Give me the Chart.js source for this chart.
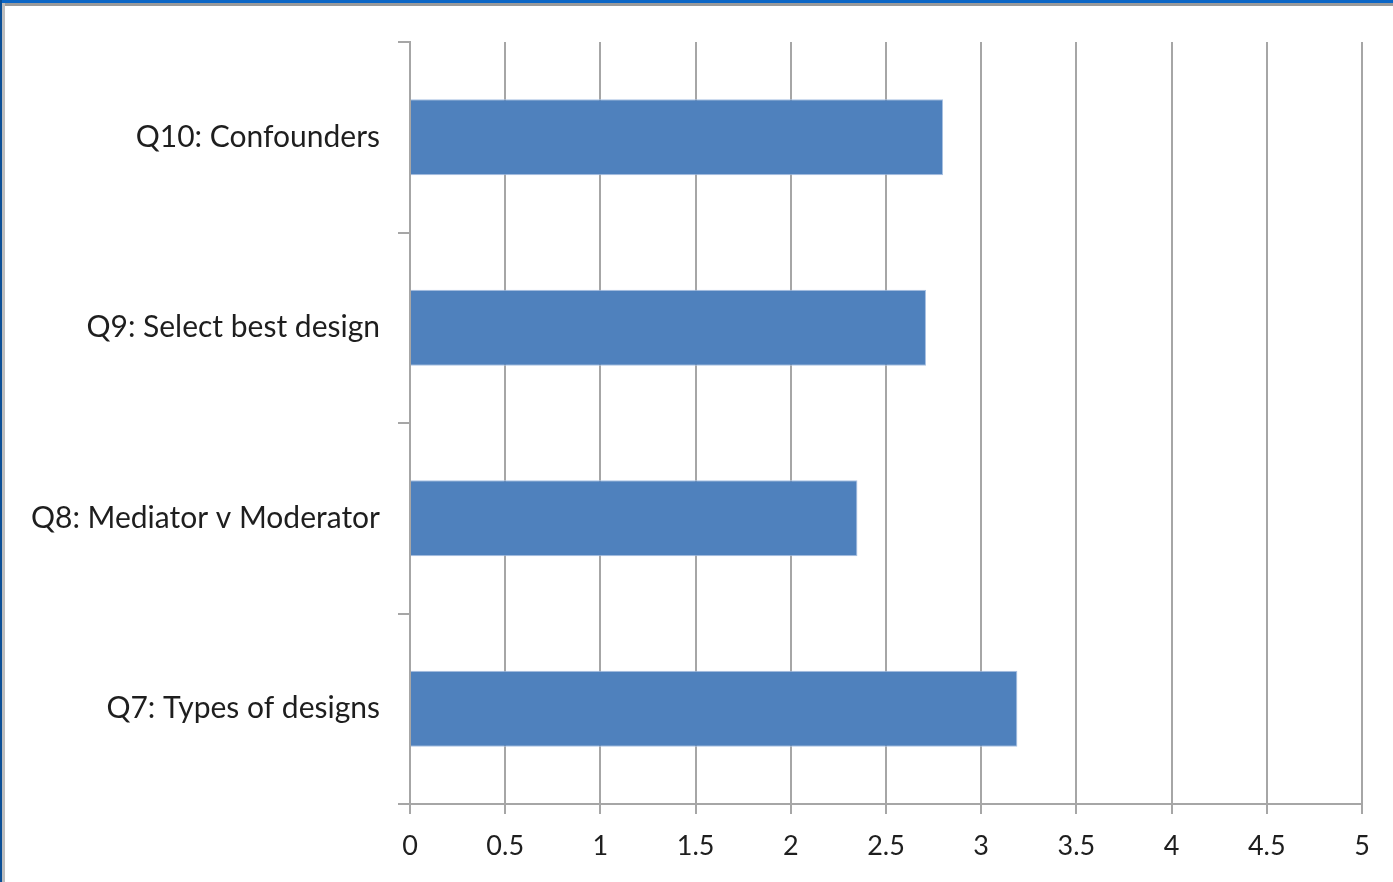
<!DOCTYPE html>
<html>
<head>
<meta charset="utf-8">
<script src="https://cdn.jsdelivr.net/npm/chart.js@4/dist/chart.umd.min.js"></script>
<style>
    html, body { margin: 0; padding: 0; background: #fff; overflow: hidden; }
    #wrap { position: relative; width: 1393px; height: 882px; }
    #chart { position: absolute; left: 0; top: 0; }
    .edge { position: absolute; }
    #topBlue { left: 0; top: 0; width: 1393px; height: 3px; background: #0b66c6; }
    #topGrey { left: 2px; top: 3px; width: 1391px; height: 3px; background: #9a9a9a; }
    #leftBlue { left: 0; top: 0; width: 2px; height: 882px; background: #0b4f96; }
    #leftGrey { left: 2px; top: 3px; width: 3px; height: 879px; background: #bdbdbd; }
</style>
</head>
<body>
<div id="wrap">
    <canvas id="chart" width="1393" height="882"></canvas>
    <div class="edge" id="topBlue"></div>
    <div class="edge" id="topGrey"></div>
    <div class="edge" id="leftBlue"></div>
    <div class="edge" id="leftGrey"></div>
</div>
<script>
const questions = [
    "Q10: Confounders",
    "Q9: Select best design",
    "Q8: Mediator v Moderator",
    "Q7: Types of designs",
];
const scores = [2.8, 2.71, 2.35, 3.19];
const scoreTicks = [0, 0.5, 1, 1.5, 2, 2.5, 3, 3.5, 4, 4.5, 5];

const LABEL_FONT = { family: "Lato, 'Open Sans', sans-serif", size: 30 };
const TICK_FONT = { family: "Lato, 'Open Sans', sans-serif", size: 27 };
const GRID = "#a6a6a6";

const ctx = document.getElementById("chart").getContext("2d");

new Chart(ctx, {
    type: "bar",
    data: {
        labels: questions,
        datasets: [{
            data: scores,
            backgroundColor: "#4f81bd",
            borderColor: "#a9c1e2",
            borderWidth: 1,
            borderSkipped: "left",
            categoryPercentage: 1,
            barPercentage: 0.4,
        }],
    },
    options: {
        indexAxis: "y",
        responsive: false,
        animation: false,
        layout: { padding: { top: 42, right: 31, left: 0, bottom: 0 } },
        plugins: {
            legend: { display: false },
            tooltip: { enabled: false },
        },
        scales: {
            x: {
                min: 0,
                max: 5,
                afterBuildTicks: (scale) => {
                    scale.ticks = scoreTicks.map((v) => ({ value: v }));
                },
                afterFit: (scale) => { scale.height = 78; },
                grid: {
                    color: GRID,
                    lineWidth: 2,
                    tickLength: 10,
                },
                border: { color: GRID, width: 2 },
                ticks: {
                    color: "#1e1e1e",
                    font: TICK_FONT,
                    padding: 16,
                    maxRotation: 0,
                    callback: (v) => String(v),
                },
            },
            y: {
                afterFit: (scale) => { scale.width = 410; },
                grid: {
                    drawOnChartArea: false,
                    color: GRID,
                    lineWidth: 2,
                    tickLength: 12,
                },
                border: { color: GRID, width: 2 },
                ticks: {
                    color: "#1e1e1e",
                    font: LABEL_FONT,
                    padding: 18,
                },
            },
        },
    },
});
</script>
</body>
</html>
